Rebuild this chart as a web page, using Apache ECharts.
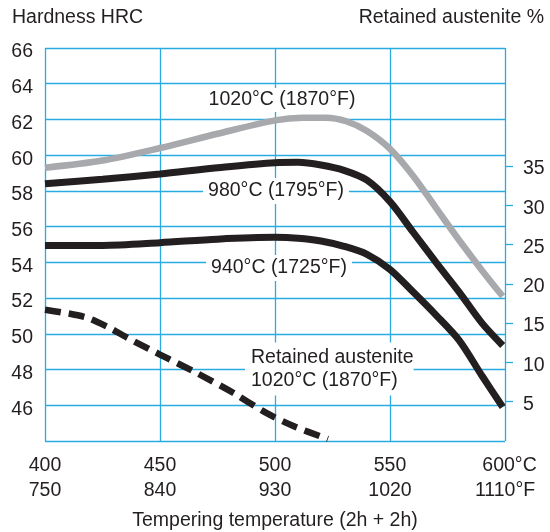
<!DOCTYPE html>
<html>
<head>
<meta charset="utf-8">
<script src="https://cdn.jsdelivr.net/npm/echarts@6/dist/echarts.min.js"></script>
<style>
  html, body { margin: 0; padding: 0; background: #fff; }
  #chart { width: 550px; height: 532px; }
</style>
</head>
<body>
<div id="chart"></div>
<script>
// ---- data ----
const celsiusTicks = ['400', '450', '500', '550', '600°C'];
const fahrenheitTicks = ['750', '840', '930', '1020', '1110°F'];

// Hardness (HRC), hardened from 1020°C
const temps1020 = [400, 425, 450, 475, 500, 512, 522, 531, 540, 550, 560, 570, 580, 590, 599];
const hrc1020   = [59.3, 59.7, 60.4, 61.2, 61.95, 62.1, 62.1, 61.9, 61.35, 60.35, 58.85, 57.05, 55.25, 53.55, 52.1];

// Hardness (HRC), hardened from 980°C
const temps980 = [400, 425, 450, 475, 500, 510, 520, 530, 540, 550, 560, 570, 580, 590, 599];
const hrc980   = [58.4, 58.65, 58.95, 59.3, 59.58, 59.6, 59.45, 59.15, 58.6, 57.4, 55.7, 54.0, 52.35, 50.6, 49.35];

// Hardness (HRC), hardened from 940°C
const temps940 = [400, 425, 450, 475, 500, 510, 520, 530, 540, 550, 560, 570, 580, 590, 599];
const hrc940   = [54.95, 54.95, 55.1, 55.3, 55.4, 55.35, 55.2, 54.9, 54.45, 53.6, 52.35, 51.05, 49.65, 47.65, 45.9];

// Retained austenite (%), hardened from 1020°C
const tempsRA = [400, 417, 427, 436, 450, 466, 482, 496, 508, 523];
const retainedAustenite = [16.7, 15.8, 14.55, 13.1, 11.0, 8.65, 6.1, 3.6, 1.9, 0.25];

const leftTicksShown = [46, 48, 50, 52, 54, 56, 58, 60, 62, 64, 66];
const rightTicksShown = [5, 10, 15, 20, 25, 30, 35];

const curveLabels = ['1020°C (1870°F)', '980°C (1795°F)', '940°C (1725°F)', 'Retained austenite\n1020°C (1870°F)'];
const titleLeft = 'Hardness HRC';
const titleRight = 'Retained austenite %';
const xTitle = 'Tempering temperature (2h + 2h)';

// ---- style ----
const FONT = '"Liberation Sans", Arial, Helvetica, sans-serif';
const FS = 19.5;
const TXT = '#231f20';
const BLUE = '#29abe2';
const GRAY = '#a7a9ac';
const BLACK = '#231f20';

const zip = (xs, ys) => xs.map((x, i) => [x, ys[i]]);

const chart = echarts.init(document.getElementById('chart'), null, { renderer: 'canvas' });

function textEl(text, x, y, align, extra) {
  return {
    type: 'text', x: x, y: y, z: 100,
    style: Object.assign({
      text: text, fill: TXT, font: FS + 'px ' + FONT,
      align: align, verticalAlign: 'middle'
    }, extra || {})
  };
}

const richBase = { fontSize: FS, fontFamily: FONT, color: TXT, lineHeight: 25 };

chart.setOption({
  animation: false,
  backgroundColor: '#fff',
  textStyle: { fontFamily: FONT },
  grid: { left: 45, right: 45, top: 48, height: 393, containLabel: false, outerBoundsMode: 'none' },
  xAxis: {
    type: 'value', min: 400, max: 600, interval: 50,
    axisLine: { show: false },
    axisTick: { show: false },
    splitLine: { show: true, lineStyle: { color: BLUE, width: 1.3 } },
    axisLabel: {
      color: TXT, fontSize: FS, fontFamily: FONT, lineHeight: 25, margin: 12,
      formatter: function (v) {
        const i = Math.round((v - 400) / 50);
        if (i === celsiusTicks.length - 1) {
          return '{p|' + celsiusTicks[i] + '}\n{n|' + fahrenheitTicks[i] + '}';
        }
        return '{n|' + celsiusTicks[i] + '}\n{n|' + fahrenheitTicks[i] + '}';
      },
      rich: {
        n: richBase,
        p: Object.assign({}, richBase, { padding: [0, 0, 0, 9] })
      }
    },
    name: xTitle, nameLocation: 'middle', nameGap: 70,
    nameTextStyle: { color: TXT, fontSize: FS, fontFamily: FONT }
  },
  yAxis: [
    {
      type: 'value', min: 44, max: 66, interval: 2, position: 'left',
      axisLine: { show: false },
      axisTick: { show: false },
      splitLine: { show: true, lineStyle: { color: BLUE, width: 1.3 } },
      axisLabel: {
        color: TXT, fontSize: FS, fontFamily: FONT, margin: 12,
        formatter: function (v) { return leftTicksShown.indexOf(v) >= 0 ? '{s|' + v + '}' : ''; },
        rich: { s: { fontSize: FS, fontFamily: FONT, color: TXT, padding: [8, 0, 0, 0] } }
      }
    },
    {
      type: 'value', min: 0, max: 50, interval: 5, position: 'right',
      axisLine: { show: false },
      axisTick: { show: true, length: 8, customValues: rightTicksShown, lineStyle: { color: BLUE, width: 1.3 } },
      splitLine: { show: false },
      axisLabel: {
        color: TXT, fontSize: FS, fontFamily: FONT, margin: 18,
        customValues: rightTicksShown,
        formatter: function (v) { return '{s|' + v + '}'; },
        rich: { s: { fontSize: FS, fontFamily: FONT, color: TXT, padding: [6, 0, 0, 0] } }
      }
    }
  ],
  series: [
    {
      type: 'line', name: '1020', data: zip(temps1020, hrc1020), yAxisIndex: 0,
      showSymbol: false, smooth: 0.3, z: 3,
      lineStyle: { color: GRAY, width: 6.5 }
    },
    {
      type: 'line', name: '980', data: zip(temps980, hrc980), yAxisIndex: 0,
      showSymbol: false, smooth: 0.3, z: 4,
      lineStyle: { color: BLACK, width: 7 }
    },
    {
      type: 'line', name: '940', data: zip(temps940, hrc940), yAxisIndex: 0,
      showSymbol: false, smooth: 0.3, z: 4,
      lineStyle: { color: BLACK, width: 7 }
    },
    {
      type: 'line', name: 'RA', data: zip(tempsRA, retainedAustenite), yAxisIndex: 1,
      showSymbol: false, smooth: 0.3, z: 4,
      lineStyle: { color: BLACK, width: 6.5, type: [16, 8] }
    }
  ],
  graphic: [
    textEl(titleLeft, 12, 18, 'left'),
    textEl(titleRight, 544, 18, 'right'),
    textEl(curveLabels[0], 282, 100, 'center', { backgroundColor: '#fff', padding: [2, 5, 2, 5] }),
    textEl(curveLabels[1], 276, 191, 'center', { backgroundColor: '#fff', padding: [3, 5, 3, 5] }),
    textEl(curveLabels[2], 279, 268, 'center', { backgroundColor: '#fff', padding: [3, 5, 3, 5] }),
    textEl(curveLabels[3], 245, 369, 'left', { backgroundColor: '#fff', padding: [4, 0, 3, 6], lineHeight: 23 })
  ]
});
</script>
</body>
</html>
